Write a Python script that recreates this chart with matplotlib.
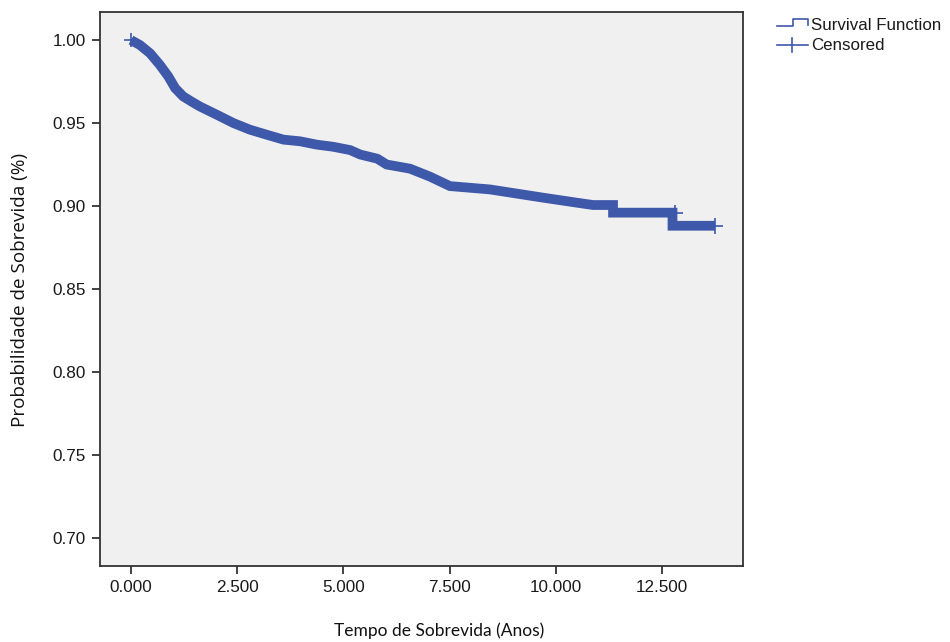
import matplotlib.pyplot as plt
from matplotlib.lines import Line2D

# Kaplan-Meier estimate
# (the visible steps near the end are given as pairs of points)
tempo = [0.00, 0.21, 0.45, 0.68, 0.88, 1.04, 1.23, 1.42, 1.62, 2.02, 2.41, 2.80,
         3.19, 3.59, 3.98, 4.37, 4.76, 5.16, 5.40, 5.80, 6.02, 6.57, 7.04, 7.51,
         8.45, 9.08, 9.71, 10.50, 10.88, 11.35, 11.35, 12.75, 12.75, 13.75]
sobrevida = [1.000, 0.997, 0.992, 0.985, 0.978, 0.971, 0.966, 0.963, 0.960, 0.955,
             0.950, 0.946, 0.943, 0.940, 0.939, 0.937, 0.9357, 0.9337, 0.9310, 0.9285,
             0.9250, 0.9225, 0.9177, 0.9120, 0.9100, 0.9075, 0.9050, 0.9020, 0.9006,
             0.9006, 0.8960, 0.8960, 0.8881, 0.8881]
# censored marks shown past the last steps
cens_t = [12.80, 13.75]
cens_s = [0.896, 0.8881]

xticks = [0, 2.5, 5, 7.5, 10, 12.5]
xtick_labels = ['0.000', '2.500', '5.000', '7.500', '10.000', '12.500']
yticks = [0.70, 0.75, 0.80, 0.85, 0.90, 0.95, 1.00]

azul = '#3E58AA'

plt.rcParams['font.family'] = ['Liberation Sans', 'DejaVu Sans']

fig = plt.figure(figsize=(9.5, 6.42), dpi=100)
ax = fig.add_axes([100 / 950, 76 / 642, 643 / 950, 554 / 642])
ax.set_facecolor('#F0F0F0')

ax.plot(tempo, sobrevida, color=azul, linewidth=7,
        solid_joinstyle='miter', solid_capstyle='butt', zorder=3)
ax.plot(cens_t, cens_s, linestyle='none', marker='+', markersize=12,
        markeredgewidth=1.2, color=azul, zorder=4)
ax.plot([0.0], [1.0], linestyle='none', marker='+', markersize=10,
        markeredgewidth=1.2, color=azul, zorder=4)

ax.set_xlim(-0.73, 14.41)
ax.set_ylim(0.6831, 1.0169)
ax.set_xticks(xticks)
ax.set_xticklabels(xtick_labels)
ax.set_yticks(yticks)
ax.set_yticklabels([f'{v:.2f}' for v in yticks])

for sp in ax.spines.values():
    sp.set_color('#333333')
    sp.set_linewidth(1.3)
ax.tick_params(direction='out', length=6, width=1.3, color='#333333',
               labelsize=12.3, labelcolor='#1a1a1a', pad=4)

fig.text(439 / 950, 1 - 631 / 642, 'Tempo de Sobrevida (Anos)', fontsize=12.5,
         family=['Lato', 'DejaVu Sans'], ha='center', va='center', color='#111111')
fig.text(20 / 950, 1 - 290 / 642, 'Probabilidade de Sobrevida (%)', fontsize=13.6,
         family=['Open Sans', 'DejaVu Sans'], ha='center', va='center',
         rotation=90, color='#111111')

# legend drawn by hand in figure pixels
def px(x, y):
    return x / 950, 1 - y / 642

step_icon = [px(777, 26), px(793, 26), px(793, 19), px(808, 19), px(808, 25)]
fig.add_artist(Line2D([p[0] for p in step_icon], [p[1] for p in step_icon],
                      color=azul, linewidth=1.2, transform=fig.transFigure))
a, b = px(777, 45), px(808, 45)
fig.add_artist(Line2D([a[0], b[0]], [a[1], b[1]], color=azul, linewidth=1.2,
                      transform=fig.transFigure))
a, b = px(792, 38), px(792, 52)
fig.add_artist(Line2D([a[0], b[0]], [a[1], b[1]], color=azul, linewidth=1.2,
                      transform=fig.transFigure))
fig.text(*px(811, 25), 'Survival Function', fontsize=12.2, va='center', color='#1a1a1a')
fig.text(*px(811, 45), 'Censored', fontsize=12.2, va='center', color='#1a1a1a')

plt.savefig('out.png', dpi=100)
